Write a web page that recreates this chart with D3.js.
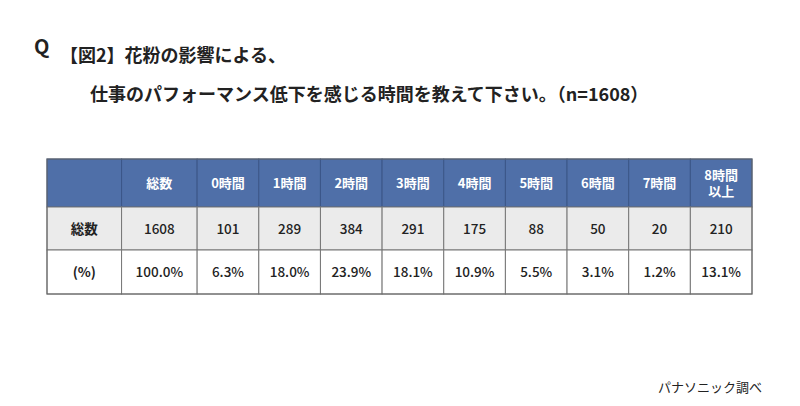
<!DOCTYPE html>
<html><head><meta charset="utf-8">
<script src="https://cdn.jsdelivr.net/npm/d3@7"></script>
<style>body{margin:0;background:#fff}svg{display:block;font-family:"Noto Sans CJK JP","Noto Sans",sans-serif}</style>
</head><body><svg id="chart" width="800" height="406"></svg>
<script>
const categories = ["総数", "0時間", "1時間", "2時間", "3時間", "4時間", "5時間", "6時間", "7時間", "8時間\n以上"];
const counts = [1608, 101, 289, 384, 291, 175, 88, 50, 20, 210];
const percents = [100.0, 6.3, 18.0, 23.9, 18.1, 10.9, 5.5, 3.1, 1.2, 13.1];
const rowLabels = ["", "総数", "(%)"];

const svg = d3.select("#chart");
const tLeft = 47, tRight = 752, tTop = 159;
// first two columns are wider than the rest
const weights = [75, 76].concat(d3.range(categories.length - 1).map(() => 62));
const scaleW = (tRight - tLeft) / d3.sum(weights);
const edges = [tLeft];
weights.forEach(w => edges.push(edges[edges.length - 1] + w * scaleW));
const x = i => edges[i], w = i => edges[i + 1] - edges[i];
const y = d3.scaleOrdinal().domain([0, 1, 2]).range([tTop, 207, 250]);
const rowH = [48, 43, 44];

const rows = [
  [rowLabels[0]].concat(categories),
  [rowLabels[1]].concat(counts.map(String)),
  [rowLabels[2]].concat(percents.map(p => p.toFixed(1) + "%"))
];
const fills = ["#4f6fa8", "#ebebeb", "#ffffff"];

rows.forEach((row, r) => {
  const g = svg.append("g");
  row.forEach((txt, c) => {
    g.append("rect").attr("x", x(c)).attr("y", y(r)).attr("width", w(c)).attr("height", rowH[r])
      .attr("fill", fills[r]).attr("stroke", r === 0 ? "#3b5688" : "#777").attr("stroke-width", 1);
    const lines = txt.split("\n");
    const t = g.append("text").attr("text-anchor", "middle")
      .attr("font-size", r === 0 ? 13 : 13.5).attr("font-weight", r === 0 || c === 0 ? 700 : 500)
      .attr("fill", r === 0 ? "#fff" : "#222");
    lines.forEach((l, i) => {
      t.append("tspan").attr("x", x(c) + w(c) / 2)
        .attr("y", y(r) + rowH[r] / 2 + 5 + (i - (lines.length - 1) / 2) * 16).text(l);
    });
  });
});
svg.append("rect").attr("x", tLeft).attr("y", tTop).attr("width", tRight - tLeft).attr("height", d3.sum(rowH))
  .attr("fill", "none").attr("stroke", "#666");

svg.append("text").attr("x", 34).attr("y", 54).attr("font-size", 20).attr("font-weight", 700).attr("fill", "#222").text("Q");
svg.append("text").attr("x", 60).attr("y", 62).attr("font-size", 18).attr("font-weight", 700).attr("fill", "#222").text("【図2】花粉の影響による、");
svg.append("text").attr("x", 90).attr("y", 101).attr("font-size", 18).attr("font-weight", 700).attr("fill", "#222").text("仕事のパフォーマンス低下を感じる時間を教えて下さい。（n=1608）");
svg.append("text").attr("x", 762).attr("y", 392).attr("text-anchor", "end").attr("font-size", 13).attr("fill", "#222").text("パナソニック調べ");
</script></body></html>
